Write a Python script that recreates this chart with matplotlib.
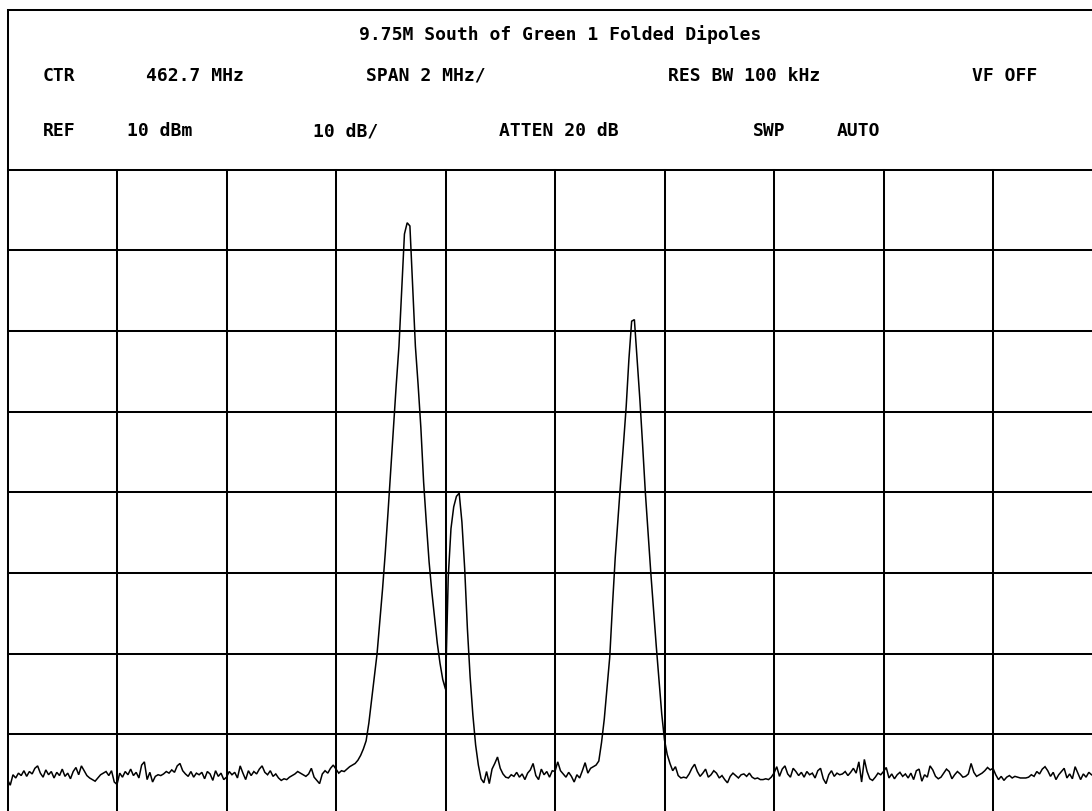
import matplotlib
matplotlib.use("Agg")
import matplotlib.pyplot as plt
from matplotlib.lines import Line2D
import numpy as np

# analyzer settings (from the header block)
title = "9.75M South of Green 1 Folded Dipoles"
center_mhz = 462.7
mhz_per_div = 2.0
ref_dbm = 10
db_per_div = 10
n_xdiv = 10
n_ydiv = 8

row1_labels = ["CTR", "462.7 MHz", "SPAN 2 MHz/", "RES BW 100 kHz", "VF OFF"]
row2_labels = ["REF", "10 dBm", "10 dB/", "ATTEN 20 dB", "SWP", "AUTO"]

# trace in dBm, 401 points across the full span (one line = quarter division)
trace_dbm = [
    # div 0
    -65.6, -66.3, -65.0, -65.4, -64.8, -65.1, -64.5, -65.2, -64.6, -64.9,
    -64.2, -63.9, -64.8, -65.3, -64.4, -65.0, -64.6, -65.4, -64.7, -65.1,
    -64.3, -65.2, -64.8, -65.5, -64.6, -64.1, -65.0, -63.9, -64.5, -65.1,
    -65.4, -65.6, -65.8, -65.4, -65.0, -64.8, -64.6, -65.1, -64.5, -65.9,
    # div 1
    -66.2, -64.8, -65.3, -64.6, -65.0, -64.3, -65.1, -64.7, -65.4, -63.8,
    -63.4, -65.6, -64.7, -65.9, -65.2, -65.0, -65.1, -64.9, -64.6, -64.8,
    -64.4, -64.7, -63.9, -63.6, -64.5, -64.9, -65.2, -64.6, -65.3, -64.8,
    -65.0, -64.7, -65.5, -64.6, -64.9, -65.7, -64.5, -65.2, -64.8, -65.6,
    # div 2
    -65.3, -64.6, -65.0, -64.7, -65.4, -63.9, -64.8, -65.6, -64.5, -65.1,
    -64.6, -64.9, -64.3, -63.9, -64.7, -65.0, -64.5, -65.2, -64.9, -65.4,
    -65.7, -65.5, -65.6, -65.3, -65.1, -64.9, -64.6, -64.8, -65.0, -65.2,
    -64.9, -64.2, -65.3, -65.7, -66.1, -64.9, -64.5, -64.8, -64.2, -63.8,
    # div 3 - first big carrier
    -64.3, -64.8, -64.5, -64.6, -64.3, -64.0, -63.8, -63.6, -63.2, -62.6,
    -61.8, -60.8, -58.6, -55.7, -52.9, -50.0, -46.0, -42.0, -37.5, -32.5,
    -27.2, -21.7, -16.7, -11.9, -5.0, 2.0, 3.4, 3.0, -4.5, -11.9,
    -16.7, -22.0, -28.7, -33.8, -38.6, -42.3, -45.5, -48.7, -51.2, -53.2,
    # div 4 - small carrier next to it
    -54.4, -40.5, -34.5, -31.8, -30.5, -30.1, -33.7, -39.4, -46.9, -52.9,
    -57.6, -61.3, -63.8, -65.5, -66.0, -64.6, -66.1, -64.3, -63.6, -62.8,
    -64.2, -64.9, -65.3, -65.4, -65.0, -65.2, -64.7, -65.3, -64.9, -65.6,
    -64.8, -64.4, -63.6, -65.1, -65.6, -64.3, -65.0, -64.6, -65.3, -64.5,
    # div 5 - third carrier
    -64.6, -63.4, -64.5, -64.9, -65.3, -64.7, -65.2, -65.9, -65.0, -65.4,
    -64.5, -63.5, -64.8, -64.2, -64.0, -63.8, -63.3, -61.0, -58.1, -54.2,
    -50.4, -44.0, -38.1, -33.3, -28.6, -24.1, -19.4, -13.5, -8.8, -8.6,
    -13.5, -18.5, -24.1, -30.0, -35.0, -40.0, -44.5, -49.1, -53.3, -57.5,
    # div 6
    -60.7, -62.5, -63.6, -64.5, -64.0, -65.1, -65.4, -65.3, -65.4, -64.9,
    -64.2, -63.7, -64.6, -65.2, -64.8, -64.3, -65.3, -65.0, -64.5, -64.8,
    -65.4, -65.1, -65.6, -66.0, -65.2, -64.8, -65.1, -65.4, -65.0, -64.9,
    -65.2, -64.8, -65.3, -65.5, -65.4, -65.6, -65.6, -65.5, -65.6, -65.3,
    # div 7
    -64.8, -64.0, -65.2, -64.3, -63.9, -64.9, -65.3, -64.2, -64.6, -65.1,
    -64.7, -65.3, -64.6, -65.0, -64.8, -65.4, -64.5, -64.2, -65.5, -66.1,
    -65.0, -64.5, -65.2, -64.8, -65.0, -64.9, -64.6, -65.1, -64.7, -64.2,
    -64.8, -63.4, -65.9, -63.1, -64.6, -65.5, -65.7, -65.3, -64.8, -65.0,
    # div 8
    -64.6, -64.1, -65.4, -64.9, -65.5, -65.0, -64.7, -65.2, -64.9, -65.4,
    -64.8, -65.6, -64.5, -64.3, -65.8, -65.0, -65.3, -63.9, -64.4, -65.2,
    -65.5, -65.3, -64.8, -64.3, -64.6, -65.5, -65.0, -64.6, -64.9, -65.3,
    -65.2, -64.9, -63.6, -64.7, -65.2, -65.0, -64.8, -64.5, -64.1, -64.4,
    # div 9
    -64.2, -65.0, -65.6, -65.2, -65.7, -65.3, -65.1, -65.4, -65.2, -65.3,
    -65.4, -65.4, -65.4, -65.3, -65.0, -65.2, -64.6, -64.9, -64.3, -64.0,
    -64.5, -65.2, -64.7, -65.6, -65.0, -64.6, -64.2, -65.4, -64.9, -65.5,
    -64.0, -64.8, -65.6, -64.9, -65.3, -64.7, -65.0, -65.2, -64.8, -65.1,
    -65.0,
]

# layout in pixels (the screen capture is cropped on the right and bottom)
W, H = 1092, 812
left_px = 7.5
frame_top_px = 10.7
grid_top_px = 170.5
div_w = 109.5
div_h = 80.7
line_w = 1.45

fig = plt.figure(figsize=(W / 100, H / 100), dpi=100)
fig.patch.set_facecolor("white")

ax = fig.add_axes([left_px / W, 0, 1 - left_px / W, 1 - grid_top_px / H])
x0 = center_mhz - n_xdiv / 2 * mhz_per_div
ax.set_xlim(x0, x0 + (W - left_px) / div_w * mhz_per_div)
ax.set_ylim(ref_dbm - (H - grid_top_px) / div_h * db_per_div, ref_dbm)

for k in range(n_xdiv + 1):
    ax.axvline(x0 + k * mhz_per_div, color="black", lw=line_w, clip_on=False)
for k in range(n_ydiv + 1):
    ax.axhline(ref_dbm - k * db_per_div, color="black", lw=line_w, clip_on=False)

freqs = np.linspace(x0, x0 + n_xdiv * mhz_per_div, len(trace_dbm))
ax.plot(freqs, trace_dbm, color="black", lw=1.1, solid_joinstyle="miter")

ax.set_xticks([])
ax.set_yticks([])
for s in ax.spines.values():
    s.set_visible(False)

# header frame: top and left edges
fx = left_px / W
fig.add_artist(Line2D([fx, 1], [1 - frame_top_px / H] * 2, color="black", lw=line_w,
                      transform=fig.transFigure))
fig.add_artist(Line2D([fx, fx], [1 - frame_top_px / H, 1 - grid_top_px / H], color="black",
                      lw=line_w, transform=fig.transFigure))

font = dict(family="DejaVu Sans Mono", weight="bold", size=13, color="black")


def put(px, py, s):
    fig.text(px / W, 1 - py / H, s, ha="left", va="baseline", **font)


put(358.6, 40.0, title)
row1_x = [42.8, 145.6, 366.0, 667.6, 971.8]
for x, s in zip(row1_x, row1_labels):
    put(x, 81.0, s)
row2_x = [42.8, 127.0, 313.3, 499.3, 752.5, 836.7]
for x, s in zip(row2_x, row2_labels):
    put(x, 136.5, s)

fig.savefig("out.png", dpi=100)
